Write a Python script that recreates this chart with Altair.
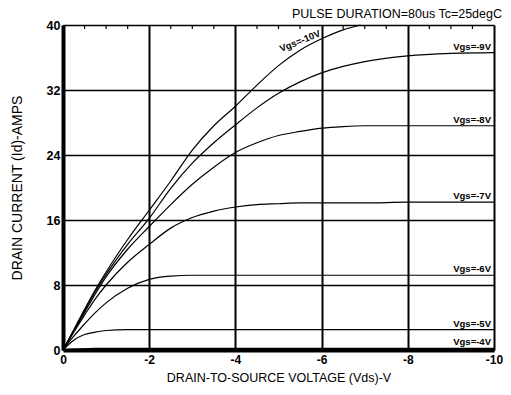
import altair as alt
import pandas as pd

# ---- data ----
VDS = [0, -0.25, -0.5, -0.75, -1, -1.5, -2, -2.5, -3, -3.5, -4, -4.5, -5,
       -5.5, -6, -6.5, -7, -8, -9, -10]
VDS_10 = [0, -0.25, -0.5, -0.75, -1, -1.5, -2, -2.5, -3, -3.5, -4, -4.5, -5,
          -5.5, -6, -6.5, -6.9]
ID_10 = [0, 2.5, 5.0, 7.4, 9.6, 13.6, 17.2, 20.8, 24.6, 27.6, 30.0, 32.6, 35.0,
         36.9, 38.3, 39.4, 40.0]
ID_9 = [0, 2.4, 4.8, 7.2, 9.3, 13.0, 16.2, 19.9, 23.0, 25.5, 27.7, 29.8, 31.6,
        33.0, 34.1, 34.9, 35.5, 36.2, 36.5, 36.6]
ID_8 = [0, 2.3, 4.6, 6.9, 9.0, 12.4, 15.2, 17.9, 20.4, 22.5, 24.3, 25.5, 26.4,
        26.9, 27.3, 27.5, 27.6, 27.6, 27.6, 27.6]
ID_7 = [0, 2.2, 4.3, 6.3, 8.0, 10.8, 13.0, 15.0, 16.3, 17.1, 17.6, 17.9, 18.0,
        18.1, 18.1, 18.1, 18.1, 18.2, 18.2, 18.2]
ID_6 = [0, 1.7, 3.2, 4.6, 5.8, 7.6, 8.7, 9.1, 9.2, 9.2, 9.2, 9.2, 9.2,
        9.2, 9.2, 9.2, 9.2, 9.2, 9.2, 9.2]
ID_5 = [0, 1.2, 1.9, 2.2, 2.4, 2.5, 2.5, 2.5, 2.5, 2.5, 2.5, 2.5, 2.5,
        2.5, 2.5, 2.5, 2.5, 2.5, 2.5, 2.5]
ID_4 = [0, 0.1, 0.15, 0.2, 0.2, 0.2, 0.2, 0.2, 0.2, 0.2, 0.2, 0.2, 0.2,
        0.2, 0.2, 0.2, 0.2, 0.2, 0.2, 0.2]

SERIES = ["Vgs=-10V", "Vgs=-9V", "Vgs=-8V", "Vgs=-7V", "Vgs=-6V", "Vgs=-5V", "Vgs=-4V"]
RIGHT_LABELS = ["Vgs=-9V", "Vgs=-8V", "Vgs=-7V", "Vgs=-6V", "Vgs=-5V", "Vgs=-4V"]
RIGHT_LABEL_ID = [36.6, 27.6, 18.2, 9.2, 2.5, 0.2]
LABEL_10_POS = (-5.5, 38.0)

X_TICKS = [0, -2, -4, -6, -8, -10]
Y_TICKS = [0, 8, 16, 24, 32, 40]
TOP_MINOR = [v * -0.5 for v in range(1, 20) if v % 4 != 0]

TITLE = "PULSE DURATION=80us Tc=25degC"
X_TITLE = "DRAIN-TO-SOURCE VOLTAGE (Vds)-V"
Y_TITLE = "DRAIN CURRENT (Id)-AMPS"

# ---- build tables ----
rows = []
all_series = [(VDS_10, ID_10), (VDS, ID_9), (VDS, ID_8), (VDS, ID_7),
              (VDS, ID_6), (VDS, ID_5), (VDS, ID_4)]
for name, (xs, ys) in zip(SERIES, all_series):
    for i, (x, y) in enumerate(zip(xs, ys)):
        rows.append({"vgs": name, "vds": x, "id": y, "order": i})
curves = pd.DataFrame(rows)

labels = pd.DataFrame({"text": RIGHT_LABELS, "vds": [-10] * len(RIGHT_LABELS),
                       "id": RIGHT_LABEL_ID})
label10 = pd.DataFrame({"text": ["Vgs=-10V"], "vds": [LABEL_10_POS[0]],
                        "id": [LABEL_10_POS[1]]})
minor = pd.DataFrame({"vds": TOP_MINOR})
title_df = pd.DataFrame({"t": [TITLE]})

FONT = "Liberation Sans"
W, H = 431, 325

xscale = alt.Scale(domain=[-10, 0], reverse=True, nice=False, zero=False)
yscale = alt.Scale(domain=[0, 40], nice=False)

xaxis = alt.Axis(values=X_TICKS, title=X_TITLE, grid=True, gridColor="black",
                 gridWidth=2, gridOpacity=1, ticks=False, domainColor="black",
                 domainWidth=4, labelFont=FONT, labelFontSize=12,
                 labelFontWeight="bold", labelColor="black", labelPadding=4,
                 labelExpr="datum.value == 0 ? '0' : '-' + format(-datum.value, 'd')",
                 titleFont=FONT, titleFontSize=12.5, titleFontWeight="normal",
                 titleColor="black", titlePadding=6, labelFlush=False)
yaxis = alt.Axis(values=Y_TICKS, title=Y_TITLE, grid=True, gridColor="black",
                 gridWidth=1.5, gridOpacity=1, ticks=False, domainColor="black",
                 domainWidth=4, labelFont=FONT, labelFontSize=12.5,
                 labelFontWeight="bold", labelColor="black", labelPadding=3,
                 titleFont=FONT, titleFontSize=14, titleFontWeight="normal",
                 titleColor="black", titlePadding=22, labelFlush=False)

lines = alt.Chart(curves).mark_line(color="black", strokeWidth=1.2,
                                    interpolate="monotone").encode(
    x=alt.X("vds:Q", scale=xscale, axis=xaxis),
    y=alt.Y("id:Q", scale=yscale, axis=yaxis),
    detail="vgs:N",
    order="order:Q",
)

right_text = alt.Chart(labels).mark_text(
    align="right", baseline="bottom", dx=-3, dy=-1, font=FONT, fontSize=9.5,
    fontWeight="bold", color="black").encode(
    x=alt.X("vds:Q", scale=xscale),
    y=alt.Y("id:Q", scale=yscale),
    text="text:N",
)

text10 = alt.Chart(label10).mark_text(
    align="center", baseline="middle", angle=338, font=FONT, fontSize=9.5,
    fontWeight="bold", color="black").encode(
    x=alt.X("vds:Q", scale=xscale),
    y=alt.Y("id:Q", scale=yscale),
    text="text:N",
)

ticks_top = alt.Chart(minor).mark_rule(color="black", strokeWidth=1.2).encode(
    x=alt.X("vds:Q", scale=xscale),
    y=alt.value(0),
    y2=alt.value(4),
)

title_text = alt.Chart(title_df).mark_text(
    align="right", baseline="alphabetic", font=FONT, fontSize=12.5,
    color="black").encode(
    x=alt.value(W + 8),
    y=alt.value(-7),
    text="t:N",
)

chart = alt.layer(lines, right_text, text10, ticks_top, title_text).properties(
    width=W,
    height=H,
    autosize=alt.AutoSizeParams(type="none"),
    padding={"left": 55, "top": 17, "right": 9, "bottom": 37},
).configure_view(stroke="black", strokeWidth=3).configure(background="white")

chart.save("out.html", embed_options={"renderer": "svg", "actions": False})
